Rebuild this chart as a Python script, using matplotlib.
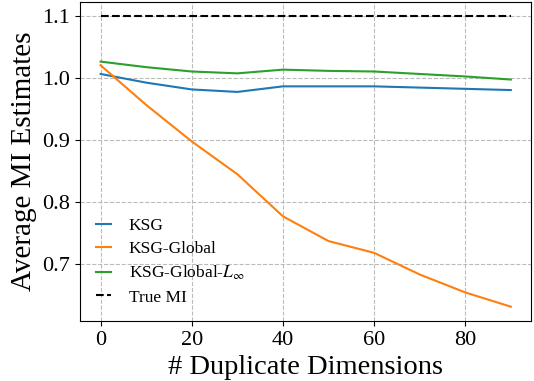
import matplotlib
matplotlib.use("Agg")
import matplotlib.pyplot as plt

# Number of duplicated dimensions appended to the inputs
dup_dims = [0, 10, 20, 30, 40, 50, 60, 70, 80, 90]

# Average MI estimates per estimator
ksg = [1.007, 0.993, 0.982, 0.978, 0.987, 0.987, 0.987, 0.985, 0.983, 0.981]
ksg_global = [1.021, 0.957, 0.898, 0.845, 0.777, 0.737, 0.718, 0.683, 0.654, 0.631]
ksg_global_linf = [1.027, 1.018, 1.011, 1.008, 1.014, 1.012, 1.011, 1.007, 1.003, 0.998]
true_mi = 1.1

plt.rcParams["font.family"] = ["Liberation Serif", "DejaVu Serif"]
plt.rcParams["mathtext.fontset"] = "stix"

fig = plt.figure(figsize=(5.34, 3.81), dpi=100)
ax = fig.add_axes([0.15, 0.157, 0.845, 0.838])

ax.plot(dup_dims, ksg, color="tab:blue", lw=1.5, label="KSG")
ax.plot(dup_dims, ksg_global, color="tab:orange", lw=1.5, label="KSG-Global")
ax.plot(dup_dims, ksg_global_linf, color="tab:green", lw=1.5,
        label=r"KSG-Global-$L_\infty$")
ax.plot(dup_dims, [true_mi] * len(dup_dims), color="black", ls="--", lw=1.5,
        label="True MI")

ax.set_xticks([0, 20, 40, 60, 80])
ax.set_yticks([0.7, 0.8, 0.9, 1.0, 1.1])
ax.tick_params(labelsize=16)
ax.grid(True, ls="--", color="#bbbbbb", lw=0.8)
ax.set_xlabel("# Duplicate Dimensions", fontsize=20.5)
ax.set_ylabel("Average MI Estimates", fontsize=21)
ax.legend(loc="lower left", fontsize=12.5, frameon=False,
          handlelength=0.9, handletextpad=1.0, labelspacing=0.4,
          bbox_to_anchor=(0.0, 0.0))

fig.savefig("out.png", dpi=100)
